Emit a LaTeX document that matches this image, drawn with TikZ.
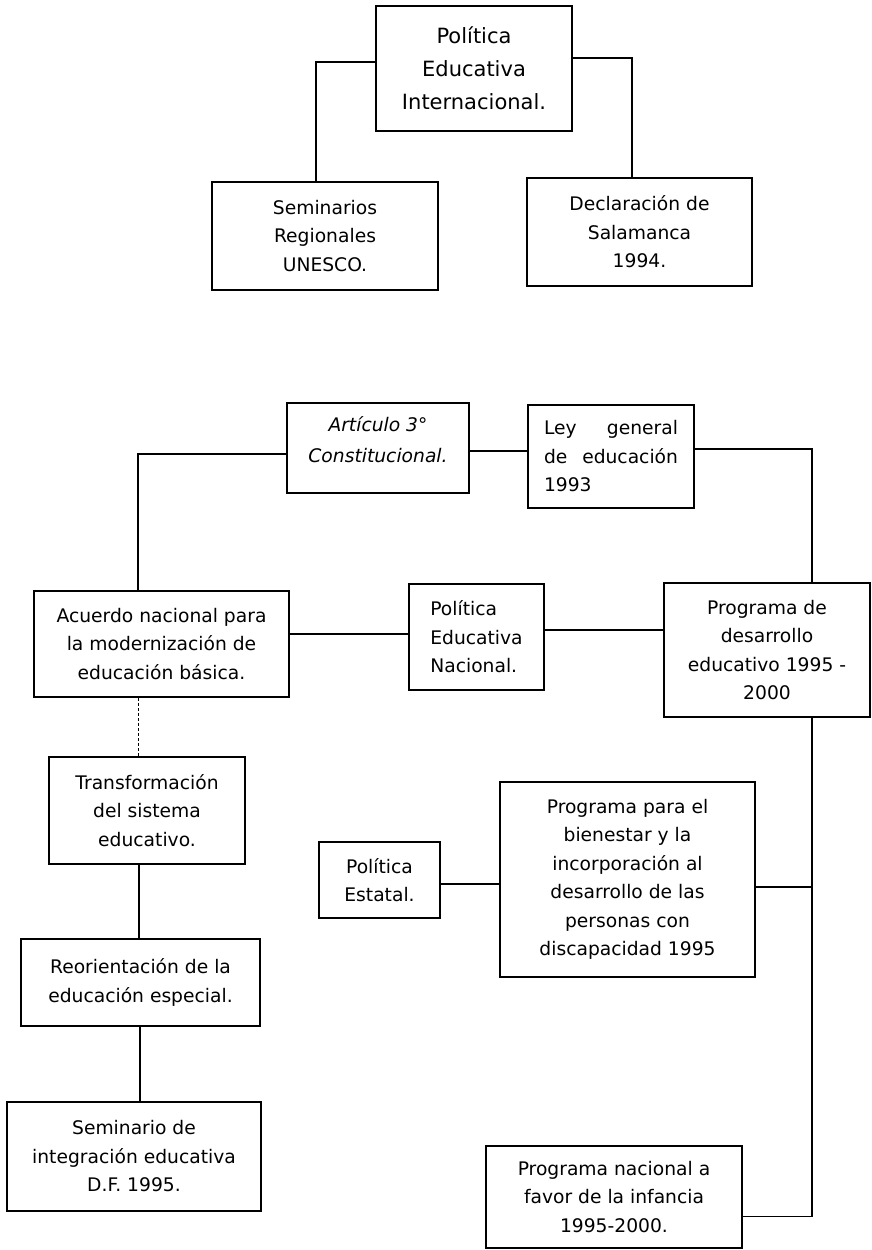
\documentclass[tikz,border=0pt]{standalone}
\usepackage{fontspec}
\setmainfont{DejaVu Sans}
\begin{document}
\begin{tikzpicture}[x=1pt,y=-1pt,
  box/.style={draw, line width=1.6pt, inner sep=0pt, align=center,
    font=\fontsize{18.7}{28.5}\selectfont},
  txt/.style={inner sep=0pt, align=center, font=\fontsize{18.7}{28.5}\selectfont},
  conn/.style={line width=1.6pt},
  thinconn/.style={line width=0.7pt, densely dashed}]
\fill[white] (0,0) rectangle (872,1250);
\useasboundingbox (0,0) rectangle (872,1250);
% trunk coordinates
\coordinate (L) at (138,0);
\coordinate (R) at (812,0);
\coordinate (TL) at (316,0);
\coordinate (TR) at (632,0);
% top part
\node[box, minimum width=196pt, minimum height=125pt,
  font=\fontsize{21}{33}\selectfont] (pei) at (474,68.5)
  {Política\\Educativa\\Internacional.};
\node[box, minimum width=226pt, minimum height=108pt] (sem) at (325,236)
  {Seminarios\\Regionales\\UNESCO.};
\node[box, minimum width=225pt, minimum height=108pt] (dec) at (639.5,232)
  {Declaración de\\Salamanca\\1994.};
\draw[conn] ([yshift=6.5pt]pei.west) coordinate (a1) -| (TL |- sem.north);
\draw[conn] ([yshift=10.5pt]pei.east) coordinate (a2) -| (TR |- dec.north);
% national part
\node[box, minimum width=182pt, minimum height=90pt] (art) at (378,448) {};
\node[txt, font=\itshape\fontsize{18.7}{31}\selectfont] (artT) at (378,440)
  {Artículo 3°\\Constitucional.};
\node[box, minimum width=166pt, minimum height=103pt, align=left] (ley) at (611,456.5)
  {\makebox[134pt][s]{Ley general}\\\makebox[134pt][s]{de educación}\\1993};
\node[box, minimum width=255pt, minimum height=106pt] (acu) at (161.5,644)
  {Acuerdo nacional para\\la modernización de\\educación básica.};
\node[box, minimum width=135pt, minimum height=106pt, align=left] (pn) at (476.5,637)
  {Política\\Educativa\\Nacional.};
\node[box, minimum width=206pt, minimum height=134pt] (pd) at (767,650)
  {Programa de\\desarrollo\\educativo 1995 -\\2000};
\node[box, minimum width=196pt, minimum height=107pt] (tr) at (147,810.5)
  {Transformación\\del sistema\\educativo.};
\node[box, minimum width=239pt, minimum height=87pt] (reo) at (140.5,982.5)
  {Reorientación de la\\educación especial.};
\node[box, minimum width=254pt, minimum height=109pt] (si) at (134,1156.5)
  {Seminario de\\integración educativa\\D.F. 1995.};
\node[box, minimum width=121pt, minimum height=76pt] (pe) at (379.5,880)
  {Política\\Estatal.};
\node[box, minimum width=255pt, minimum height=195pt] (bie) at (627.5,879.5)
  {Programa para el\\bienestar y la\\incorporación al\\desarrollo de las\\personas con\\discapacidad 1995};
\node[box, minimum width=256pt, minimum height=102pt] (pna) at (614,1197)
  {Programa nacional a\\favor de la infancia\\1995-2000.};
% connectors
\draw[conn] ([yshift=-3pt]art.east) coordinate (b1) -- (b1 -| ley.west);
\draw[conn] ([yshift=-6pt]art.west) coordinate (b2) -| (L |- acu.north);
\draw[conn] ([yshift=7.5pt]ley.east) coordinate (b3) -| (R |- pd.north);
\draw[conn] ([yshift=10pt]acu.east) coordinate (b4) -- (b4 -| pn.west);
\draw[conn] ([yshift=7pt]pn.east) coordinate (b5) -- (b5 -| pd.west);
\draw[thinconn] (L |- acu.south) -- (L |- tr.north);
\draw[conn] (139,0 |- tr.south) -- (139,0 |- reo.north);
\draw[conn] (140,0 |- reo.south) -- (140,0 |- si.north);
\draw[conn] (R |- pd.south) |- ([yshift=-19.5pt]pna.east);
\draw[conn] ([yshift=-7.5pt]bie.east) coordinate (b6) -- (b6 -| R);
\draw[conn] ([yshift=-4pt]pe.east) coordinate (b7) -- (b7 -| bie.west);
\end{tikzpicture}
\end{document}
